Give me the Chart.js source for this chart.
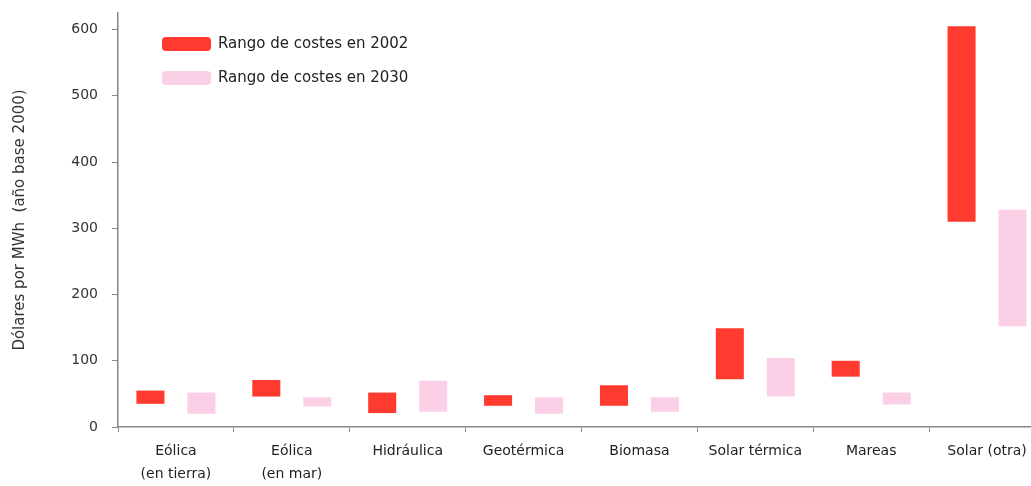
<!DOCTYPE html>
<html>
<head>
<meta charset="utf-8">
<script src="https://cdn.jsdelivr.net/npm/chart.js@4.4.0/dist/chart.umd.min.js"></script>
<style>
html, body { margin: 0; padding: 0; background: #fff; overflow: hidden; }
#wrap { width: 1045px; height: 486px; position: relative; }
</style>
</head>
<body>
<div id="wrap"><canvas id="myChart1"></canvas></div>
<script>
// rangos de costes (dólares por MWh, año base 2000)
const categorias = [['Eólica', '(en tierra)'], ['Eólica', '(en mar)'], 'Hidráulica', 'Geotérmica', 'Biomasa', 'Solar térmica', 'Mareas', 'Solar (otra)'];
const min2002 = [35, 46, 21, 32, 32, 72, 76, 310];
const max2002 = [55, 71, 52, 48, 63, 149, 100, 605];
const min2030 = [20, 31, 23, 20, 23, 46, 34, 152];
const max2030 = [52, 45, 70, 45, 45, 104, 52, 328];
const yTicks = [0, 100, 200, 300, 400, 500, 600];

const colorHex = ['#ff3a2f', '#fbd0e6'];
const fuente = 'DejaVu Sans';

// leyenda dibujada dentro del area del grafico
const leyenda = {
    id: 'leyenda',
    afterDraw: (chart) => {
        const c = chart.ctx;
        c.save();
        c.font = '15px "' + fuente + '"';
        c.textBaseline = 'middle';
        chart.data.datasets.forEach((ds, i) => {
            let y = 44 + i * 34;
            c.fillStyle = ds.backgroundColor;
            c.beginPath();
            c.roundRect(162, y - 7, 49, 14, 4);
            c.fill();
            c.fillStyle = '#222';
            c.fillText(ds.label, 218, y);
        });
        c.restore();
    }
};

let ctx = document.getElementById('myChart1').getContext('2d');
let myChart1 = new Chart(ctx, {
    type: 'bar',
    data: {
        labels: categorias,
        datasets: [{
            label: 'Rango de costes en 2002',
            data: min2002.map((v, i) => [v, max2002[i]]),
            backgroundColor: colorHex[0]
        }, {
            label: 'Rango de costes en 2030',
            data: min2030.map((v, i) => [v, max2030[i]]),
            backgroundColor: colorHex[1]
        }]
    },
    options: {
        responsive: true,
        maintainAspectRatio: false,
        animation: false,
        layout: { padding: { top: 13, left: 0, right: 0, bottom: 0 } },
        datasets: {
            bar: { barPercentage: 0.55, categoryPercentage: 0.88, borderWidth: 0 }
        },
        plugins: {
            legend: { display: false },
            tooltip: { enabled: false }
        },
        scales: {
            x: {
                grid: { offset: true, drawOnChartArea: false, tickLength: 5, color: '#888' },
                border: { color: '#888', width: 1.5 },
                ticks: {
                    color: '#222',
                    padding: 7,
                    maxRotation: 0,
                    autoSkip: false,
                    font: { family: fuente, size: 14, lineHeight: 1.7 }
                },
                afterFit: (scale) => { scale.height = 59; }
            },
            y: {
                min: 0,
                max: 625,
                grid: { drawOnChartArea: false, tickLength: 6, color: '#888' },
                border: { color: '#888', width: 1.5 },
                afterBuildTicks: (scale) => { scale.ticks = yTicks.map(v => ({ value: v })); },
                ticks: {
                    color: '#333',
                    padding: 14,
                    font: { family: fuente, size: 14 }
                },
                title: {
                    display: true,
                    text: 'Dólares por MWh  (año base 2000)',
                    color: '#333',
                    padding: { top: 11, bottom: 0 },
                    font: { family: fuente, size: 15 }
                },
                afterFit: (scale) => {
                    scale.width = 118;
                    scale.paddingTop = 0;
                    scale.paddingBottom = 0;
                }
            }
        }
    },
    plugins: [leyenda]
});
</script>
</body>
</html>
